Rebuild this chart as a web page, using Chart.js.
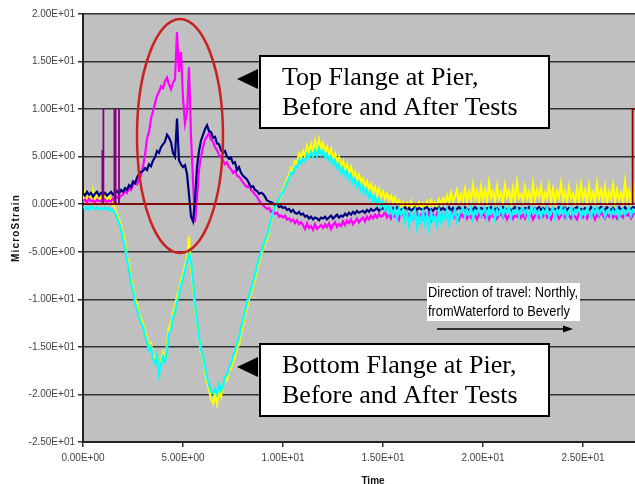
<!DOCTYPE html>
<html>
<head>
<meta charset="utf-8">
<script src="https://cdn.jsdelivr.net/npm/chart.js@4.4.1/dist/chart.umd.min.js"></script>
<style>
  html, body { margin: 0; padding: 0; background: #fff; }
  #wrap { width: 635px; height: 484px; }
</style>
</head>
<body>
<div id="wrap"><canvas id="chart" width="635" height="484"></canvas></div>
<script>
// sample clock of the recorder (seconds)
const SAMPLE_START = 0;
const SAMPLE_STEP = 0.1;

// top flange, magenta trace (one row per second)
const topMagenta = [
  0.3,0.5,0.2,0.6,0.3,0.4,0.2,0.5,0.3,0.4,
  0.3,0.5,0.2,0.4,0.3,0.6,0.5,0.8,0.6,0.9,
  1.0,1.4,1.2,1.7,1.5,2.0,2.3,2.1,2.7,3.0,
  4.0,5.2,6.9,7.6,9.0,9.8,10.6,11.4,11.8,12.4,
  12.2,12.9,13.3,12.6,12.1,12.8,13.1,18.1,13.9,16.0,
  11.2,8.5,9.6,14.4,7.2,2.5,-1.9,0.6,3.6,5.0,
  6.0,6.8,7.1,7.5,6.8,6.6,6.0,5.7,5.2,4.9,
  4.6,4.2,4.4,3.9,3.7,3.3,3.5,3.0,2.9,2.6,
  2.3,2.0,1.8,2.0,1.5,1.3,1.0,0.8,0.4,0.1,
  -0.1,-0.3,-0.5,-0.4,-0.8,-0.7,-1.0,-0.9,-1.3,-1.2,
  -1.4,-1.2,-1.6,-1.5,-1.8,-1.6,-2.0,-1.7,-2.1,-1.9,
  -2.2,-2.6,-2.0,-2.5,-2.3,-2.7,-2.1,-2.6,-2.4,-2.2,
  -2.5,-2.1,-2.4,-2.0,-2.6,-2.2,-1.9,-2.4,-2.1,-2.3,
  -1.8,-2.2,-1.7,-2.0,-1.6,-2.1,-1.8,-1.5,-1.9,-1.6,
  -1.4,-1.8,-1.3,-1.6,-1.2,-1.5,-1.1,-1.4,-1.0,-1.3,
  -1.2,-0.8,-1.4,-1.0,-1.5,-0.9,-1.3,-1.1,-1.6,-0.9,
  -1.1,-1.5,-0.8,-1.3,-1.0,-1.6,-1.2,-0.9,-1.4,-1.1,
  -1.5,-1.0,-1.3,-0.8,-1.7,-1.1,-1.4,-0.9,-1.2,-1.6,
  -1.0,-1.3,-0.9,-1.5,-1.2,-0.8,-1.4,-1.1,-1.6,-1.0,
  -1.3,-0.9,-1.5,-1.1,-1.4,-0.8,-1.2,-1.6,-1.0,-1.3,
  -0.9,-1.4,-1.1,-1.6,-1.0,-1.3,-0.8,-1.5,-1.2,-1.0,
  -1.4,-1.0,-1.6,-1.2,-0.9,-1.5,-1.1,-1.3,-0.8,-1.4,
  -1.1,-1.5,-0.9,-1.3,-1.0,-1.6,-1.2,-0.8,-1.4,-1.1,
  -1.3,-0.9,-1.4,-1.1,-1.6,-1.0,-1.2,-0.9,-1.5,-1.2,
  -1.0,-1.4,-0.8,-1.2,-1.5,-1.0,-1.3,-1.6,-0.9,-1.2,
  -1.4,-1.1,-1.5,-0.9,-1.2,-1.0,-1.6,-1.1,-1.3,-0.8,
  -1.2,-1.5,-1.0,-1.3,-0.9,-1.4,-1.1,-1.5,-1.0,-1.2,
  -1.4,-0.9,-1.2,-1.0,-1.5,-1.1,-0.9
];

// top flange, navy trace
const topNavy = [
  1.2,0.9,1.3,1.0,1.2,0.8,1.1,1.3,0.9,1.2,
  1.0,1.2,0.9,1.1,1.3,1.0,1.2,1.4,1.1,1.5,
  1.3,1.7,1.5,2.0,1.8,2.4,2.2,2.8,3.2,3.4,
  3.5,3.8,3.6,4.2,4.0,4.6,4.9,5.6,5.4,6.0,
  6.3,6.6,7.3,7.0,6.5,5.4,5.0,9.0,4.6,4.2,
  3.9,4.1,3.2,1.0,-1.3,-1.8,0.4,3.9,5.6,6.7,
  7.3,7.9,8.3,7.7,7.6,7.0,7.1,6.4,6.3,5.7,
  5.4,5.6,5.0,4.8,4.9,4.3,4.4,3.6,3.9,3.3,
  3.0,2.8,2.6,2.2,1.8,1.9,1.5,1.4,1.1,1.2,
  1.1,0.8,0.4,0.3,0.2,0.1,-0.1,0.0,-0.3,-0.2,
  -0.4,-0.3,-0.6,-0.5,-0.8,-0.6,-0.9,-1.0,-0.8,-1.1,
  -1.0,-1.3,-1.2,-1.5,-1.3,-1.6,-1.4,-1.5,-1.7,-1.4,
  -1.5,-1.3,-1.6,-1.4,-1.2,-1.5,-1.3,-1.1,-1.4,-1.2,
  -1.3,-1.0,-1.2,-0.9,-1.1,-0.8,-1.0,-0.7,-0.9,-0.8,
  -0.7,-0.9,-0.6,-0.8,-0.5,-0.7,-0.6,-0.4,-0.7,-0.5,
  -0.4,-0.6,-0.3,-0.5,-0.7,-0.4,-0.6,-0.3,-0.5,-0.6,
  -0.5,-0.3,-0.6,-0.4,-0.7,-0.5,-0.3,-0.6,-0.4,-0.5,
  -0.6,-0.4,-0.3,-0.6,-0.5,-0.7,-0.4,-0.5,-0.3,-0.6,
  -0.4,-0.6,-0.5,-0.3,-0.7,-0.4,-0.6,-0.5,-0.3,-0.5,
  -0.6,-0.3,-0.5,-0.7,-0.4,-0.6,-0.3,-0.5,-0.6,-0.4,
  -0.5,-0.7,-0.4,-0.5,-0.3,-0.6,-0.5,-0.4,-0.7,-0.5,
  -0.3,-0.5,-0.6,-0.4,-0.7,-0.5,-0.3,-0.6,-0.4,-0.5,
  -0.6,-0.4,-0.5,-0.3,-0.6,-0.7,-0.4,-0.5,-0.3,-0.6,
  -0.4,-0.6,-0.3,-0.5,-0.7,-0.4,-0.5,-0.6,-0.3,-0.5,
  -0.5,-0.3,-0.6,-0.4,-0.5,-0.7,-0.4,-0.3,-0.6,-0.5,
  -0.6,-0.4,-0.5,-0.7,-0.3,-0.5,-0.6,-0.4,-0.5,-0.3,
  -0.4,-0.6,-0.3,-0.5,-0.6,-0.4,-0.7,-0.5,-0.3,-0.6,
  -0.5,-0.3,-0.6,-0.4,-0.5,-0.3,-0.4
];

// bottom flange, yellow trace
const bottomYellow = [
  0.2,1.2,0.4,1.0,0.1,1.4,0.5,0.9,0.3,1.1,
  0.3,1.0,0.2,0.8,0.4,0.1,-0.6,-1.0,-1.6,-2.3,
  -3.0,-4.0,-5.6,-6.3,-7.8,-8.7,-9.9,-10.4,-11.5,-12.0,
  -12.6,-13.4,-14.0,-15.2,-14.7,-15.9,-16.4,-15.8,-17.6,-16.5,
  -15.6,-16.3,-14.8,-13.0,-12.6,-11.4,-10.8,-9.7,-9.1,-8.0,
  -7.4,-6.5,-5.8,-3.4,-6.6,-8.4,-10.9,-12.6,-14.2,-15.5,
  -16.0,-17.6,-18.6,-19.5,-20.5,-20.9,-20.0,-21.0,-19.6,-20.2,
  -19.0,-18.6,-18.5,-17.6,-17.2,-16.6,-16.0,-15.1,-14.8,-13.6,
  -12.8,-11.6,-10.9,-10.0,-9.4,-8.6,-7.9,-6.8,-6.2,-5.3,
  -4.8,-4.1,-3.7,-2.6,-1.9,-1.0,-0.6,0.1,0.3,1.0,
  1.4,2.1,2.6,3.0,3.8,3.6,4.5,4.4,5.3,4.9,
  5.6,5.0,6.1,5.4,6.3,5.5,6.6,5.6,6.8,5.8,
  6.4,5.5,6.0,5.1,5.8,4.8,5.3,4.4,4.9,3.9,
  4.5,3.6,4.2,3.3,3.9,2.9,3.4,2.6,3.1,2.2,
  2.7,1.9,2.4,1.6,2.1,1.3,1.8,1.0,1.6,0.8,
  1.3,0.6,1.1,0.4,0.9,0.2,0.7,0.1,0.4,-0.2,
  0.2,-0.4,0.1,-0.3,0.3,-0.5,0.0,-0.2,0.2,-0.4,
  0.1,-0.3,0.3,-0.2,0.4,-0.1,0.2,-0.3,0.5,0.0,
  0.6,0.1,0.9,0.2,1.2,0.3,0.8,1.5,0.2,1.1,
  0.4,1.6,0.3,1.3,0.5,2.0,0.6,1.4,0.2,1.8,
  0.5,1.5,0.3,2.2,0.7,1.3,0.4,1.9,0.6,1.2,
  0.3,2.0,0.8,1.4,0.2,1.7,0.5,2.3,0.7,1.1,
  0.4,1.8,0.6,1.3,0.2,2.1,0.5,1.5,0.8,1.9,
  0.3,1.2,0.6,2.0,0.4,1.6,0.2,1.4,0.7,2.2,
  0.5,1.3,0.3,1.8,0.6,1.1,0.2,1.7,0.4,2.0,
  0.6,1.4,0.2,1.9,0.5,1.2,0.3,2.1,0.7,1.5,
  0.4,1.8,0.2,1.3,0.6,2.0,0.3,1.5,0.5,1.2,
  0.3,2.3,0.5,1.4,0.2,2.5,0.4
];

// bottom flange, cyan trace
const bottomCyan = [
  -0.2,-0.5,-0.3,-0.6,-0.2,-0.4,-0.5,-0.3,-0.6,-0.4,
  -0.5,-0.3,-0.6,-0.4,-0.7,-0.6,-0.9,-1.4,-2.0,-2.6,
  -3.6,-4.5,-5.9,-6.8,-8.3,-9.0,-10.4,-11.0,-11.8,-12.5,
  -12.9,-13.8,-14.5,-15.4,-15.0,-16.2,-16.8,-15.9,-17.9,-16.8,
  -16.0,-16.6,-15.3,-13.6,-13.2,-11.9,-11.3,-10.3,-9.5,-8.5,
  -7.8,-6.9,-6.2,-5.1,-6.0,-7.9,-10.5,-12.3,-14.0,-15.3,
  -15.9,-17.2,-18.2,-19.0,-19.7,-19.9,-19.4,-20.0,-19.0,-19.6,
  -19.1,-18.2,-18.0,-17.2,-16.7,-16.0,-15.4,-14.6,-14.1,-13.0,
  -12.2,-11.2,-10.4,-9.6,-9.0,-8.1,-7.4,-6.5,-5.8,-5.0,
  -4.5,-3.8,-3.3,-2.4,-1.7,-0.8,-0.4,0.2,0.5,1.1,
  1.2,1.8,2.3,2.7,3.3,3.2,3.9,3.8,4.6,4.3,
  4.8,4.5,5.3,4.9,5.5,5.0,5.7,5.1,5.9,5.2,
  5.6,4.9,5.3,4.6,5.0,4.2,4.6,3.8,4.2,3.3,
  3.8,3.0,3.5,2.6,3.1,2.2,2.6,1.8,2.3,1.4,
  1.9,1.1,1.5,0.7,1.2,0.3,0.8,0.0,0.5,-0.3,
  0.2,-0.6,-0.1,-0.9,-0.3,-1.2,-0.5,-1.5,-0.4,-1.1,
  -0.6,-1.8,-0.9,-2.2,-1.0,-1.6,-0.7,-2.4,-1.2,-1.9,
  -0.8,-2.1,-1.1,-2.6,-0.9,-1.7,-1.3,-2.3,-0.7,-1.9,
  -1.0,-1.6,-0.6,-2.0,-0.9,-1.4,-0.5,-1.8,-1.1,-0.7,
  -0.4,-1.3,-0.6,-1.1,-0.3,-1.5,-0.7,-1.0,-0.4,-1.2,
  -0.8,-0.3,-1.4,-0.5,-1.0,-0.4,-1.6,-0.6,-1.1,-0.3,
  -1.2,-0.5,-0.9,-0.3,-1.4,-0.7,-1.0,-0.4,-1.3,-0.6,
  -0.4,-1.1,-0.6,-1.5,-0.3,-0.9,-0.5,-1.2,-0.7,-1.4,
  -0.6,-1.0,-0.3,-1.3,-0.8,-0.4,-1.5,-0.6,-1.0,-0.3,
  -1.1,-0.5,-1.4,-0.7,-0.3,-1.2,-0.6,-0.9,-0.4,-1.3,
  -0.7,-1.2,-0.4,-0.9,-1.4,-0.5,-1.0,-0.3,-1.1,-0.6,
  -0.4,-1.3,-0.8,-0.5,-1.2,-0.6,-1.0,-0.4,-1.4,-0.7,
  -0.5,-1.1,-0.7,-0.3,-1.2,-0.6,-0.9
];

// trigger channel: spikes at the start of the record
const triggerTimes  = [0.97, 0.97, 0.97, 1.02, 1.02, 1.02, 1.57, 1.57, 1.57, 1.63, 1.63, 1.63, 1.8, 1.8, 1.8];
const triggerValues = [0, 5.7, 0, 0, 10, 0, 0, 10, 0, 0, 10, 0, 0, 10, 0];

// reference channel: zero line, step at the end of the record
const refTimes  = [0, 27.48, 27.48, 27.6];
const refValues = [0, 0, 10, 10];

const yTicks = [-25, -20, -15, -10, -5, 0, 5, 10, 15, 20];
const xTicks = [0, 5, 10, 15, 20, 25];

const topLabel = ["Top Flange at Pier,", "Before and After Tests"];
const bottomLabel = ["Bottom Flange at Pier,", "Before and After Tests"];
const travelNote = ["Direction of travel: Northly,", "fromWaterford to Beverly"];

function toPoints(values) {
  return values.map((v, i) => ({ x: +(SAMPLE_START + i * SAMPLE_STEP).toFixed(2), y: v }));
}

function pairPoints(xs, ys) {
  return xs.map((x, i) => ({ x, y: ys[i] }));
}

// Excel style scientific label, e.g. 1.50E+01
function sci(v) {
  if (v === 0) return "0.00E+00";
  const e = Math.floor(Math.log10(Math.abs(v)) + 1e-9);
  const m = v / Math.pow(10, e);
  return m.toFixed(2) + "E" + (e < 0 ? "-" : "+") + String(Math.abs(e)).padStart(2, "0");
}

function line(data, color, width) {
  return {
    data,
    borderColor: color,
    borderWidth: width,
    pointRadius: 0,
    tension: 0,
    fill: false,
  };
}

const plotBackground = {
  id: "plotBackground",
  beforeDraw(chart) {
    const { ctx, chartArea: a } = chart;
    ctx.save();
    ctx.fillStyle = "#ffffff";
    ctx.fillRect(0, 0, chart.width, chart.height);
    ctx.fillStyle = "#c0c0c0";
    ctx.fillRect(a.left, a.top, a.right - a.left, a.bottom - a.top);
    ctx.restore();
  },
};

function labelBox(ctx, x, y, w, h, lines) {
  ctx.fillStyle = "#ffffff";
  ctx.fillRect(x, y, w, h);
  ctx.strokeStyle = "#000000";
  ctx.lineWidth = 2;
  ctx.strokeRect(x, y, w, h);
  ctx.fillStyle = "#000000";
  ctx.font = "26px 'Liberation Serif', 'Times New Roman', serif";
  ctx.textAlign = "left";
  ctx.textBaseline = "alphabetic";
  ctx.fillText(lines[0], x + 22, y + 29);
  ctx.fillText(lines[1], x + 22, y + 59);
}

function leftTriangle(ctx, tipX, cy) {
  ctx.beginPath();
  ctx.moveTo(tipX, cy);
  ctx.lineTo(tipX + 21, cy - 10);
  ctx.lineTo(tipX + 21, cy + 10);
  ctx.closePath();
  ctx.fillStyle = "#000000";
  ctx.fill();
}

const annotations = {
  id: "annotations",
  afterDraw(chart) {
    const ctx = chart.ctx;
    ctx.save();

    // red ring around the pier region
    ctx.beginPath();
    ctx.ellipse(180, 136, 43, 117, 0, 0, Math.PI * 2);
    ctx.strokeStyle = "#cc2020";
    ctx.lineWidth = 2.5;
    ctx.stroke();

    labelBox(ctx, 260, 56, 289, 72, topLabel);
    leftTriangle(ctx, 237, 79);
    labelBox(ctx, 260, 344, 289, 72, bottomLabel);
    leftTriangle(ctx, 237, 367);

    // direction of travel note
    ctx.fillStyle = "#ffffff";
    ctx.fillRect(427, 283, 153, 38);
    ctx.fillStyle = "#000000";
    ctx.font = "14px 'Liberation Sans', Arial, sans-serif";
    const sx = 150 / ctx.measureText(travelNote[0]).width;
    ctx.textBaseline = "middle";
    ctx.save();
    ctx.translate(428, 0);
    ctx.scale(sx, 1);
    ctx.fillText(travelNote[0], 0, 293);
    ctx.fillText(travelNote[1], 0, 312);
    ctx.restore();

    ctx.beginPath();
    ctx.moveTo(437, 329);
    ctx.lineTo(566, 329);
    ctx.strokeStyle = "#000000";
    ctx.lineWidth = 1.5;
    ctx.stroke();
    ctx.beginPath();
    ctx.moveTo(573, 329);
    ctx.lineTo(563, 325.5);
    ctx.lineTo(563, 332.5);
    ctx.closePath();
    ctx.fill();

    // axis titles
    ctx.font = "bold 10px 'Liberation Sans', Arial, sans-serif";
    ctx.textAlign = "center";
    ctx.textBaseline = "middle";
    ctx.fillStyle = "#111111";
    ctx.fillText("Time", 373, 481);
    ctx.save();
    ctx.translate(16, 228);
    ctx.rotate(-Math.PI / 2);
    ctx.letterSpacing = "1.2px";
    ctx.fillText("MicroStrain", 0, 0);
    ctx.restore();

    ctx.restore();
  },
};

const tickFont = { family: "'Liberation Sans', Arial, sans-serif", size: 10 };

new Chart(document.getElementById("chart"), {
  type: "line",
  data: {
    datasets: [
      line(pairPoints(refTimes, refValues), "#8b0000", 1.8),
      line(pairPoints(triggerTimes, triggerValues), "#800080", 1.8),
      line(toPoints(bottomCyan), "#00ffff", 2.2),
      line(toPoints(topNavy), "#000080", 2.2),
      line(toPoints(topMagenta), "#ff00ff", 2.2),
      line(toPoints(bottomYellow), "#ffff00", 2.2),
    ],
  },
  options: {
    responsive: false,
    animation: false,
    events: [],
    layout: { padding: { top: 14, right: 0, left: 0, bottom: 0 } },
    plugins: { legend: { display: false }, tooltip: { enabled: false } },
    scales: {
      x: {
        type: "linear",
        min: 0,
        max: 27.6,
        afterBuildTicks: (s) => { s.ticks = xTicks.map((v) => ({ value: v })); },
        afterFit: (s) => { s.height = 42; },
        grid: { drawOnChartArea: false, drawTicks: true, tickLength: 5, color: "#333333", lineWidth: 1.5 },
        border: { display: true, color: "#222222", width: 2 },
        ticks: { callback: (v) => sci(v), font: tickFont, color: "#444444", padding: 5, maxRotation: 0, autoSkip: false },
      },
      y: {
        type: "linear",
        min: -25,
        max: 20,
        afterBuildTicks: (s) => { s.ticks = yTicks.map((v) => ({ value: v })); },
        afterFit: (s) => { s.width = 83; },
        grid: { drawTicks: true, tickLength: 5, color: "#333333", lineWidth: 1.5 },
        border: { display: true, color: "#222222", width: 2 },
        ticks: { callback: (v) => sci(v), font: tickFont, color: "#444444", padding: 3, autoSkip: false },
      },
    },
  },
  plugins: [plotBackground, annotations],
});
</script>
</body>
</html>
